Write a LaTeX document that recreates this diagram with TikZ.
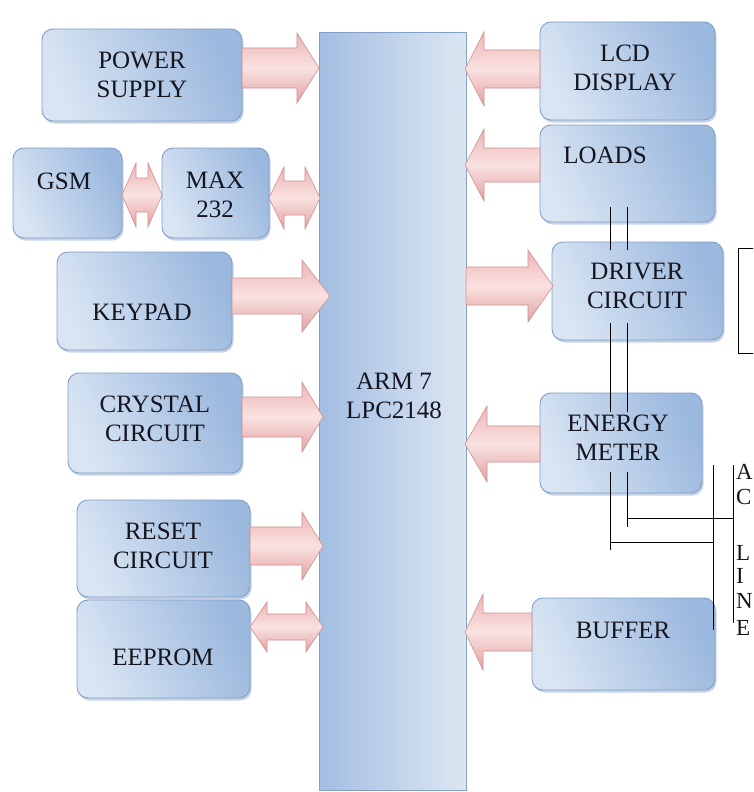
\documentclass[tikz,border=0pt]{standalone}
\usepackage{fontspec}
\setmainfont{Liberation Serif}
\usetikzlibrary{shadows}
\definecolor{boxL}{HTML}{D9E5F3}
\definecolor{boxR}{HTML}{9BB8DE}
\definecolor{boxB}{HTML}{819FC7}
\definecolor{armL}{HTML}{A3BEE2}
\definecolor{armR}{HTML}{DCE6F2}
\definecolor{arrT}{HTML}{EDB4B4}
\definecolor{arrM}{HTML}{FAE2E2}
\definecolor{arrB}{HTML}{E2A0A0}
\definecolor{arrD}{HTML}{CF9090}
\definecolor{txt}{HTML}{15151F}
\newcommand\rarr[6]{\path[parr] (#1,{#3-#4}) -- ({#2-#6},{#3-#4}) -- ({#2-#6},{#3-#5}) -- (#2,#3) -- ({#2-#6},{#3+#5}) -- ({#2-#6},{#3+#4}) -- (#1,{#3+#4}) -- cycle;}
\newcommand\larr[6]{\path[parr] (#2,{#3-#4}) -- ({#1+#6},{#3-#4}) -- ({#1+#6},{#3-#5}) -- (#1,#3) -- ({#1+#6},{#3+#5}) -- ({#1+#6},{#3+#4}) -- (#2,{#3+#4}) -- cycle;}
\newcommand\darr[6]{\path[parr] ({#1+#6},{#3-#4}) -- ({#2-#6},{#3-#4}) -- ({#2-#6},{#3-#5}) -- (#2,#3) -- ({#2-#6},{#3+#5}) -- ({#2-#6},{#3+#4}) -- ({#1+#6},{#3+#4}) -- ({#1+#6},{#3+#5}) -- (#1,#3) -- ({#1+#6},{#3-#5}) -- cycle;}
\begin{document}
\begin{tikzpicture}[x=1pt,y=-1pt,
  blk/.style={rounded corners=11pt, draw=boxB, line width=0.9pt,
    left color=boxL, right color=boxR, shading angle=115,
    inner sep=0pt, outer sep=0pt,
    drop shadow={shadow xshift=1.5pt, shadow yshift=-2.5pt, opacity=0.45, fill=boxB}},
  lbl/.style={font=\fontsize{25}{29}\selectfont, text=txt, align=center, inner sep=0pt},
  sidelbl/.style={font=\fontsize{23}{27}\selectfont, text=txt, inner sep=0pt, anchor=west},
  parr/.style={draw=arrD, line width=0.6pt, top color=arrT, bottom color=arrB, middle color=arrM},
  wire/.style={draw=black, line width=1pt}]
\useasboundingbox (0,0) rectangle (753,792);
\clip (0,0) rectangle (753,792);
\fill[white] (0,0) rectangle (753,792);
% main controller
\node[draw=boxB, line width=1pt, left color=armL, right color=armR, minimum width=147pt, minimum height=757pt, inner sep=0pt] (arm) at (392.5,411.5) {};
\node[lbl] (armt) at (394,396) {ARM 7\\LPC2148};
% left blocks
\node[blk, minimum width=200pt, minimum height=92pt] (ps) at (142,75) {};
\node[blk, minimum width=109pt, minimum height=90pt] (gsm) at (67.5,193) {};
\node[blk, minimum width=107pt, minimum height=90pt] (max) at (215.5,193) {};
\node[blk, minimum width=175pt, minimum height=98pt] (key) at (144.5,301) {};
\node[blk, minimum width=174pt, minimum height=100pt] (cry) at (155,423) {};
\node[blk, minimum width=173pt, minimum height=97pt] (rst) at (163.5,548.5) {};
\node[blk, minimum width=173pt, minimum height=98pt] (eep) at (163.5,649) {};
% right blocks
\node[blk, minimum width=175pt, minimum height=98pt] (lcd) at (627.5,71) {};
\node[blk, minimum width=175pt, minimum height=97pt] (lds) at (627.5,173.5) {};
\node[blk, minimum width=171pt, minimum height=98pt] (drv) at (637.5,291) {};
\node[blk, minimum width=162pt, minimum height=100pt] (emt) at (621,443) {};
\node[blk, minimum width=183pt, minimum height=92pt] (buf) at (623.5,644) {};
% labels
\node[lbl] (pst) at (142,75) {POWER\\SUPPLY};
\node[lbl] (gsmt) at (64,181) {GSM};
\node[lbl] (maxt) at (215,195) {MAX\\232};
\node[lbl] (keyt) at (142,312) {KEYPAD};
\node[lbl] (cryt) at (155,419) {CRYSTAL\\CIRCUIT};
\node[lbl] (rstt) at (163,546) {RESET\\CIRCUIT};
\node[lbl] (eept) at (163,657) {EEPROM};
\node[lbl] (lcdt) at (625,68) {LCD\\DISPLAY};
\node[lbl] (ldst) at (605,155) {LOADS};
\node[lbl] (drvt) at (637,286) {DRIVER\\CIRCUIT};
\node[lbl] (emtt) at (618,438) {ENERGY\\METER};
\node[lbl] (buft) at (623,630) {BUFFER};
% block arrows
\rarr{242}{319}{68}{20}{35}{22}
\darr{122}{162}{195}{17}{32}{14}
\darr{269}{320}{198}{17}{31}{15}
\rarr{232}{330}{296}{18}{36}{28}
\rarr{242}{323}{417}{20}{35}{21}
\rarr{250}{323}{546}{19}{34}{21}
\darr{250}{323}{627}{13}{25}{17}
\larr{465}{540}{69}{19}{37}{19}
\larr{465}{540}{165}{17}{36}{19}
\rarr{466}{553}{286}{19}{36}{25}
\larr{465}{540}{444}{18}{38}{22}
\larr{465}{532}{632}{19}{38}{18}
% wires
\coordinate (a1) at (610,207); \coordinate (a2) at (610,250);
\coordinate (b1) at (627,207); \coordinate (b2) at (627,250);
\coordinate (c1) at (610,323); \coordinate (c2) at (610,412);
\coordinate (d1) at (627,323); \coordinate (d2) at (627,412);
\coordinate (e1) at (627,472); \coordinate (e2) at (627,527); \coordinate (e3) at (627,518); \coordinate (e4) at (733,518);
\coordinate (f1) at (610,472); \coordinate (f2) at (610,550); \coordinate (f3) at (610,542); \coordinate (f4) at (713,542);
\coordinate (g1) at (713,465); \coordinate (g2) at (713,630);
\coordinate (h1) at (733,465); \coordinate (h2) at (733,623);
\draw[wire] (a1) -- (a2); \draw[wire] (b1) -- (b2);
\draw[wire] (c1) -- (c2); \draw[wire] (d1) -- (d2);
\draw[wire] (e1) -- (e2); \draw[wire] (e3) -- (e4);
\draw[wire] (f1) -- (f2); \draw[wire] (f3) -- (f4);
\draw[wire] (g1) -- (g2); \draw[wire] (h1) -- (h2);
% partial box at right
\coordinate (r1) at (760,248); \coordinate (r2) at (738,248);
\coordinate (r3) at (738,353); \coordinate (r4) at (760,353);
\draw[line width=0.8pt] (r1) -- (r2) -- (r3) -- (r4);
% text at right edge
\node[sidelbl] (tA) at (736,472) {A};
\node[sidelbl] (tC) at (736,497) {C};
\node[sidelbl] (tL) at (736,553) {L};
\node[sidelbl] (tI) at (736,576) {I};
\node[sidelbl] (tN) at (736,601) {N};
\node[sidelbl] (tE) at (736,628) {E};
\end{tikzpicture}
\end{document}
